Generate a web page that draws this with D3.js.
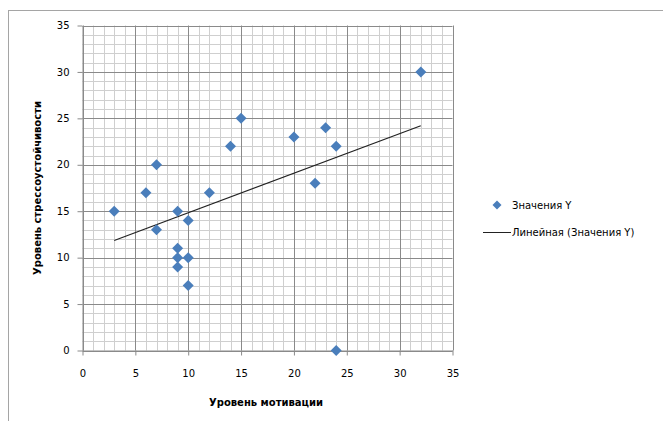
<!DOCTYPE html>
<html>
<head>
<meta charset="utf-8">
<script src="https://cdn.jsdelivr.net/npm/d3@7"></script>
<style>
	html, body { margin: 0; padding: 0; background: #fff; }
	svg { display: block; }
	text { font-family: "DejaVu Sans", sans-serif; fill: #000; }
</style>
</head>
<body>
<div id="root"></div>
<script>
// values
const motivation = [3, 6, 7, 7, 9, 9, 9, 9, 10, 10, 10, 12, 14, 15, 20, 22, 23, 24, 24, 32];
const stress = [15, 17, 20, 13, 15, 11, 10, 9, 14, 10, 7, 17, 22, 25, 23, 18, 24, 22, 0, 30];
const trendX = [3, 32];
const trendY = [11.85, 24.2];
const xTicks = [0, 5, 10, 15, 20, 25, 30, 35];
const yTicks = [0, 5, 10, 15, 20, 25, 30, 35];
const minorTicks = d3.range(0, 36);
const xTitle = "Уровень мотивации";
const yTitle = "Уровень стрессоустойчивости";
const legendLabels = ["Значения Y", "Линейная (Значения Y)"];

const width = 663, height = 421;
const plot = { left: 82.5, right: 452.5, top: 25.5, bottom: 350.5 };
const blue = "#4a7ebb";

const x = d3.scaleLinear().domain([0, 35]).range([plot.left, plot.right]);
const y = d3.scaleLinear().domain([0, 35]).range([plot.bottom, plot.top]);

const diamond = (r) => `M0,${-r}L${r},0L0,${r}L${-r},0Z`;

const svg = d3.select("#root")
	.append("svg")
		.attr("width", width)
		.attr("height", height);

// chart frame, runs off the right and bottom edges
svg.append("rect")
	.attr("x", 8.5).attr("y", 10.5)
	.attr("width", 700).attr("height", 500)
	.attr("fill", "none")
	.attr("stroke", "#a5a5a5");

// minor grid
const grid = svg.append("g");
grid.selectAll(".vminor")
	.data(minorTicks.filter(d => d % 5))
	.enter().append("line")
		.attr("x1", d => Math.round(x(d)) + 0.5).attr("x2", d => Math.round(x(d)) + 0.5)
		.attr("y1", plot.top).attr("y2", plot.bottom)
		.attr("stroke", "#cfcfcf");
grid.selectAll(".hminor")
	.data(minorTicks.filter(d => d % 5))
	.enter().append("line")
		.attr("y1", d => Math.round(y(d)) + 0.5).attr("y2", d => Math.round(y(d)) + 0.5)
		.attr("x1", plot.left).attr("x2", plot.right)
		.attr("stroke", "#cfcfcf");

// major grid
grid.selectAll(".vmajor")
	.data(xTicks)
	.enter().append("line")
		.attr("x1", d => Math.round(x(d)) + 0.5).attr("x2", d => Math.round(x(d)) + 0.5)
		.attr("y1", plot.top).attr("y2", plot.bottom)
		.attr("stroke", "#8a8a8a");
grid.selectAll(".hmajor")
	.data(yTicks)
	.enter().append("line")
		.attr("y1", d => Math.round(y(d)) + 0.5).attr("y2", d => Math.round(y(d)) + 0.5)
		.attr("x1", plot.left).attr("x2", plot.right)
		.attr("stroke", "#8a8a8a");

// axes
const xAxis = svg.append("g")
	.attr("transform", `translate(0, ${plot.bottom})`)
	.call(d3.axisBottom(x).tickValues(xTicks).tickSize(5).tickPadding(14).tickSizeOuter(0));
const yAxis = svg.append("g")
	.attr("transform", `translate(${plot.left}, 0)`)
	.call(d3.axisLeft(y).tickValues(yTicks).tickSize(5).tickPadding(8).tickSizeOuter(0));

[xAxis, yAxis].forEach(a => {
	a.select(".domain").attr("stroke", "#8a8a8a");
	a.selectAll(".tick line").attr("stroke", "#8a8a8a");
	a.selectAll(".tick text")
		.style("font-family", "DejaVu Sans, sans-serif")
		.style("font-size", "10px")
		.attr("fill", "#000");
});

// trend line
svg.append("path")
	.datum(trendX.map((d, i) => [d, trendY[i]]))
	.attr("d", d3.line().x(d => x(d[0])).y(d => y(d[1])))
	.attr("fill", "none")
	.attr("stroke", "#222")
	.attr("stroke-width", 1.2);

// points
svg.selectAll(".point")
	.data(motivation.map((d, i) => ({ x: d, y: stress[i] })))
	.enter().append("path")
		.attr("class", "point")
		.attr("transform", d => `translate(${x(d.x)}, ${y(d.y)})`)
		.attr("d", diamond(5.5))
		.attr("fill", blue);

// axis titles
svg.append("text")
	.attr("x", 266).attr("y", 406)
	.attr("text-anchor", "middle")
	.style("font-size", "10px")
	.style("font-weight", "bold")
	.text(xTitle);

svg.append("text")
	.attr("transform", "translate(41, 188) rotate(-90)")
	.attr("text-anchor", "middle")
	.style("font-size", "10px")
	.style("font-weight", "bold")
	.text(yTitle);

// legend
const legend = svg.append("g");
legend.append("path")
	.attr("transform", "translate(497, 205)")
	.attr("d", diamond(4.5))
	.attr("fill", blue);
legend.append("line")
	.attr("x1", 483).attr("x2", 511)
	.attr("y1", 232.5).attr("y2", 232.5)
	.attr("stroke", "#222");
legend.selectAll(".label")
	.data(legendLabels)
	.enter().append("text")
		.attr("x", 512)
		.attr("y", (d, i) => 209 + i * 27)
		.style("font-size", "10px")
		.text(d => d);
</script>
</body>
</html>
